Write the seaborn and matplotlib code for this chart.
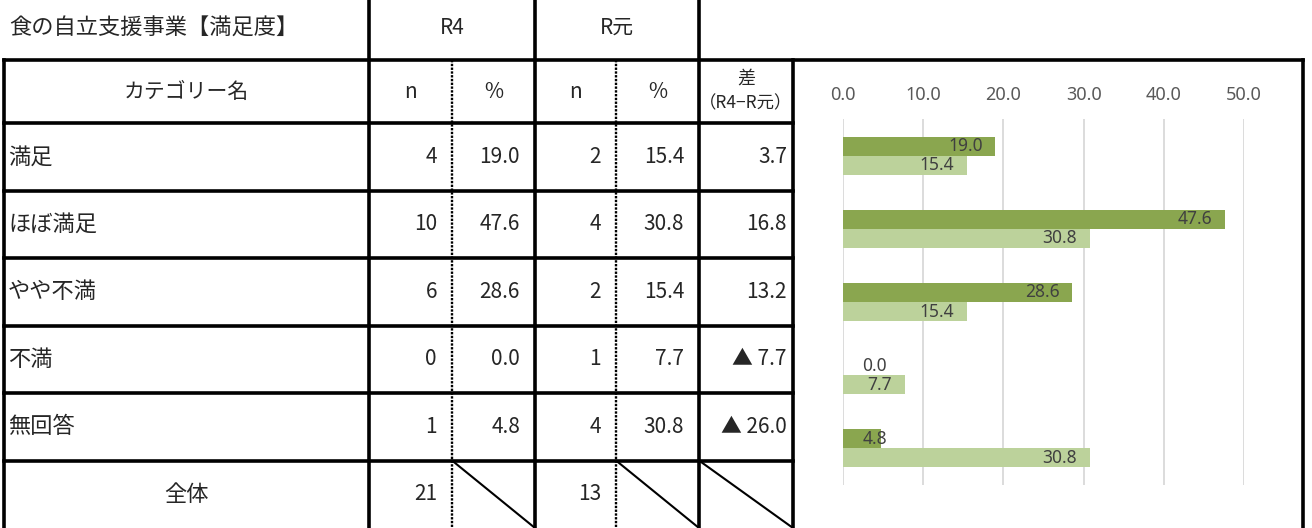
import matplotlib
matplotlib.use("Agg")
import matplotlib.pyplot as plt
import seaborn as sns
import pandas as pd

# ---------------- data ----------------
title = "食の自立支援事業【満足度】"
categories = ["満足", "ほぼ満足", "やや不満", "不満", "無回答"]
series_names = ["R4", "R元"]
r4_n = [4, 10, 6, 0, 1]
r4_pct = [19.0, 47.6, 28.6, 0.0, 4.8]
rg_n = [2, 4, 2, 1, 4]
rg_pct = [15.4, 30.8, 15.4, 7.7, 30.8]
diff = [3.7, 16.8, 13.2, -7.7, -26.0]
total_label = "全体"
r4_total = 21
rg_total = 13
x_ticks = [0, 10, 20, 30, 40, 50]

colors = ["#8AA64F", "#BCD29B"]

# ---------------- figure ----------------
sns.set_style("white")
plt.rcParams["font.family"] = ["Noto Sans CJK JP", "DejaVu Sans"]

W, H = 1312, 528
fig = plt.figure(figsize=(W / 100, H / 100), dpi=100)

# table overlay axes in pixel coordinates
tab = fig.add_axes([0, 0, 1, 1], zorder=0)
tab.set_xlim(0, W)
tab.set_ylim(H, 0)
tab.axis("off")

LW = 2.6
def hline(y, x0, x1, lw=LW):
    tab.plot([x0, x1], [y, y], color="black", lw=lw, solid_capstyle="projecting", clip_on=False)
def vline(x, y0, y1, lw=LW, dotted=False):
    if dotted:
        tab.plot([x, x], [y0, y1], color="black", lw=1.7, linestyle=(0, (1.0, 0.6)), clip_on=False)
    else:
        tab.plot([x, x], [y0, y1], color="black", lw=lw, solid_capstyle="projecting", clip_on=False)

# geometry
xL, xC1, xD1, xC2, xD2, xC3, xC4, xR = 4, 369, 452, 535, 616, 699, 793, 1303
y_top2 = 60
y_head2 = 123
row_h = 67.5
n_rows = len(categories) + 1
row_edges = [y_head2 + row_h * i for i in range(n_rows + 1)]

hline(y_top2, xL, xR)
for y in row_edges[:-1]:
    hline(y, xL, xC4)
vline(xL, y_top2, H + 5)
vline(xC1, 0, H + 5)
vline(xC2, 0, H + 5)
vline(xC3, 0, H + 5)
vline(xC4, y_top2, H + 5)
vline(xR, y_top2, H + 5)
vline(xD1, y_top2, H + 5, dotted=True)
vline(xD2, y_top2, H + 5, dotted=True)

# diagonals in total row
yt0, yt1 = row_edges[-2], row_edges[-1]
for (a, b) in [(xD1, xC2), (xD2, xC3), (xC3, xC4)]:
    tab.plot([a, b], [yt0, yt1], color="black", lw=1.5, clip_on=False)

FS = 16
FSN = 15
tab.text(9, 28, title, ha="left", va="center", fontsize=FS)
tab.text((xC1 + xC2) / 2, 28, series_names[0], ha="center", va="center", fontsize=FSN)
tab.text((xC2 + xC3) / 2, 28, series_names[1], ha="center", va="center", fontsize=FSN)

yh = (y_top2 + y_head2) / 2
tab.text((xL + xC1) / 2, yh, "カテゴリー名", ha="center", va="center", fontsize=15)
tab.text((xC1 + xD1) / 2, yh, "n", ha="center", va="center", fontsize=FSN)
tab.text((xD1 + xC2) / 2, yh, "%", ha="center", va="center", fontsize=FSN)
tab.text((xC2 + xD2) / 2, yh, "n", ha="center", va="center", fontsize=FSN)
tab.text((xD2 + xC3) / 2, yh, "%", ha="center", va="center", fontsize=FSN)
tab.text((xC3 + xC4) / 2, yh - 13, "差", ha="center", va="center", fontsize=13)
tab.text((xC3 + xC4) / 2, yh + 12, "（R4−R元）", ha="center", va="center", fontsize=12.5)

PAD = 15
PADD = 6
for i, cat in enumerate(categories):
    yc = row_edges[i] + row_h / 2
    tab.text(8, yc, cat, ha="left", va="center", fontsize=FS)
    tab.text(xD1 - PAD, yc, f"{r4_n[i]}", ha="right", va="center", fontsize=FSN)
    tab.text(xC2 - PAD, yc, f"{r4_pct[i]:.1f}", ha="right", va="center", fontsize=FSN)
    tab.text(xD2 - PAD, yc, f"{rg_n[i]}", ha="right", va="center", fontsize=FSN)
    tab.text(xC3 - PAD, yc, f"{rg_pct[i]:.1f}", ha="right", va="center", fontsize=FSN)
    d = diff[i]
    dtxt = f"{d:.1f}" if d >= 0 else f"▲ {abs(d):.1f}"
    tab.text(xC4 - PADD, yc, dtxt, ha="right", va="center", fontsize=FSN)

yc = row_edges[-2] + row_h / 2
tab.text((xL + xC1) / 2, yc, total_label, ha="center", va="center", fontsize=FS)
tab.text(xD1 - PAD, yc, f"{r4_total}", ha="right", va="center", fontsize=FSN)
tab.text(xD2 - PAD, yc, f"{rg_total}", ha="right", va="center", fontsize=FSN)

# ---------------- bar chart ----------------
ax_l, ax_r, ax_t, ax_b = 843, 1244, 119, 485
ax = fig.add_axes([ax_l / W, 1 - ax_b / H, (ax_r - ax_l) / W, (ax_b - ax_t) / H], zorder=2)
ax.patch.set_alpha(0)

df = pd.DataFrame({
    "category": categories * 2,
    "series": [series_names[0]] * len(categories) + [series_names[1]] * len(categories),
    "value": r4_pct + rg_pct,
})
df["category"] = pd.Categorical(df["category"], categories=categories, ordered=True)
df["series"] = pd.Categorical(df["series"], categories=series_names, ordered=True)

sns.barplot(data=df, y="category", x="value", hue="series", orient="h",
            palette=colors, width=0.52, dodge=True, saturation=1,
            legend=False, ax=ax, zorder=3, edgecolor="none")

ax.set_xlim(0, 50)
ax.set_ylim(len(categories) - 0.5, -0.5)
ax.set_xticks(x_ticks)
ax.set_xticklabels([f"{t:.1f}" for t in x_ticks], family=["Noto Sans", "DejaVu Sans"],
                   fontsize=13, color="#595959")
ax.xaxis.tick_top()
ax.tick_params(axis="x", length=0, pad=11)
ax.tick_params(axis="y", left=False, labelleft=False)
ax.set_xlabel("")
ax.set_ylabel("")
for s in ax.spines.values():
    s.set_visible(False)
ax.grid(axis="x", color="#D9D9D9", lw=1.3, zorder=0)
ax.grid(axis="y", visible=False)
ax.set_axisbelow(True)

# data labels (inside end, shifted right when bar is too short)
for c in ax.containers:
    for bar in c:
        v = bar.get_width()
        yc = bar.get_y() + bar.get_height() / 2
        xr = max(v - 1.6, 5.5)
        ax.text(xr, yc, f"{v:.1f}", ha="right", va="center", fontsize=12.5,
                color="#404040", family=["Noto Sans", "DejaVu Sans"], zorder=5)

fig.savefig("out.png", dpi=100)
